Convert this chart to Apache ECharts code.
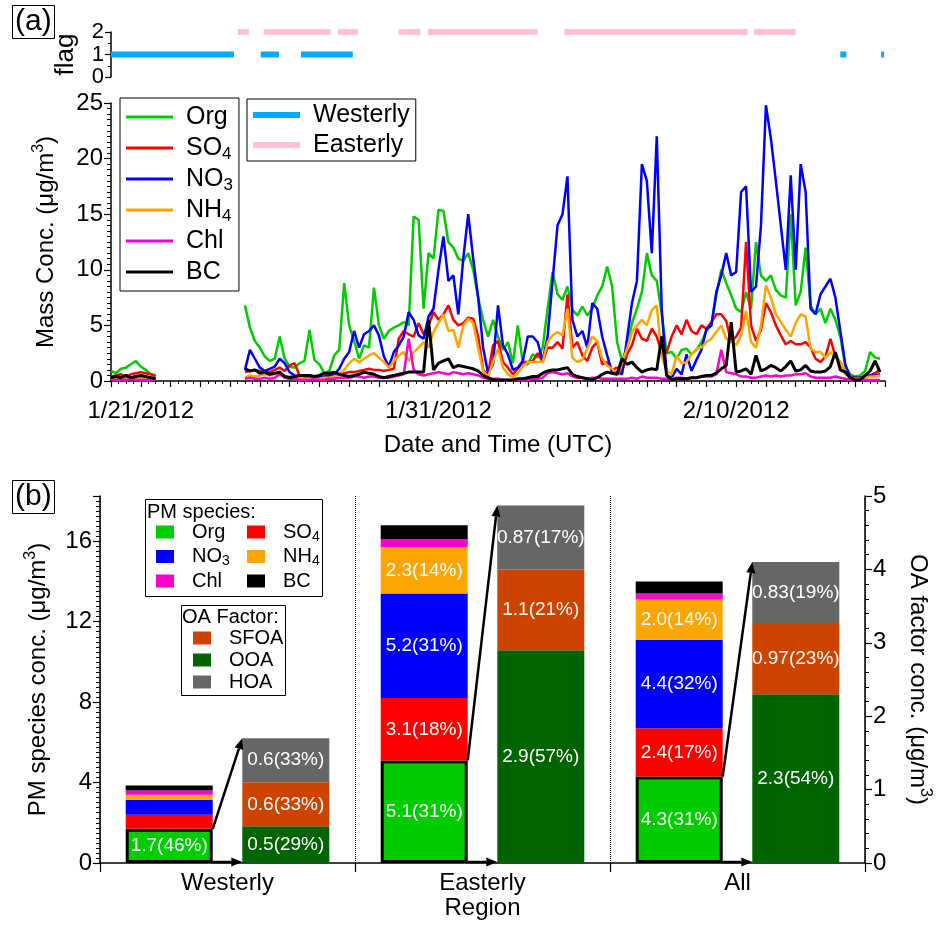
<!DOCTYPE html>
<html>
<head>
<meta charset="utf-8">
<title>PM species</title>
<script src="https://cdn.jsdelivr.net/npm/echarts@6/dist/echarts.min.js"></script>
<style>
html, body { margin: 0; padding: 0; background: #fff; }
#main { width: 941px; height: 926px; }
</style>
</head>
<body>
<div id="main"></div>
<script>
var myChart = echarts.init(document.getElementById('main'));
var FONT = "'Liberation Sans', Arial, sans-serif";

// time axis in days relative to 1/21/2012 00:00, 4-hour resolution
var dayStep = 1 / 6;
var seg1Start = -1;   // 1/20 00:00
var seg2Start = 3.5;  // 1/24 12:00

// wind flag periods [from, to] in days
var westerlyPeriods = [[-1, 3.13], [4.03, 4.64], [5.38, 7.12], [23.5, 23.7], [24.87, 24.97]];
var easterlyPeriods = [[3.26, 3.63], [4.13, 6.38], [6.62, 7.29], [8.66, 9.4], [9.64, 13.33], [14.23, 20.38], [20.6, 21.99]];

// mass concentrations (ug/m3)
var orgSeg1 = [0.9, 0.7, 1.1, 1.2, 1.5, 1.8, 1.3, 1.0, 0.6, 0.4];
var so4Seg1 = [0.4, 0.5, 0.6, 0.4, 0.6, 0.7, 0.8, 0.7, 0.6, 0.5];
var no3Seg1 = [0.3, 0.2, 0.3, 0.2, 0.3, 0.4, 0.3, 0.3, 0.2, 0.2];
var nh4Seg1 = [0.2, 0.2, 0.3, 0.2, 0.3, 0.3, 0.3, 0.3, 0.2, 0.2];
var chlSeg1 = [0.1, 0.1, 0.1, 0.1, 0.2, 0.1, 0.1, 0.1, 0.1, 0.1];
var bcSeg1 = [0.3, 0.4, 0.3, 0.5, 0.3, 0.4, 0.5, 0.4, 0.3, 0.2];

var orgSeg2 = [
    6.8, 4.8, 3.6, 3.0,
    2.2, 1.8, 2.0, 4.0, 2.0, 1.3,
    1.2, 1.6, 1.8, 4.6, 1.9, 1.5,
    0.7, 0.9, 2.3, 2.8, 8.8, 5.0,
    3.6, 2.0, 3.2, 3.0, 8.4, 5.0,
    3.8, 4.5, 4.8, 5.0, 5.3, 5.0,
    14.8, 14.5, 6.5, 11.5, 11.0, 15.4,
    15.3, 12.5, 12.0, 11.0, 10.8, 11.5,
    10.0, 7.5, 5.5, 4.0, 5.5, 4.0,
    2.8, 3.5, 1.6, 5.0, 1.6, 1.5,
    2.4, 2.1, 3.0, 6.5, 9.8, 7.8,
    7.3, 8.5, 6.4, 5.9, 6.7, 5.9,
    6.5, 7.7, 8.5, 10.3, 8.5, 3.5,
    1.8, 3.0, 5.2, 6.5, 8.0, 11.5,
    9.5, 9.0, 6.0, 2.5, 2.6, 2.0,
    2.8, 2.9, 2.4, 2.8, 3.5, 4.5,
    5.0, 7.7, 10.0, 8.8, 7.7, 6.5,
    6.2, 8.0, 6.5, 12.5, 9.5, 9.0,
    9.5, 8.2, 7.7, 7.5, 15.0, 6.8,
    8.0, 12.0, 6.8, 6.0, 6.5, 5.2,
    6.5, 5.5, 4.0, 1.3, 0.6, 0.4,
    0.5, 0.9, 2.6, 2.1, 2.0
];
var so4Seg2 = [
    0.8, 0.9, 1.0, 0.9,
    0.8, 0.8, 1.0, 1.2, 0.9, 1.4,
    1.6, 0.5, 0.4, 0.3, 0.3, 0.3,
    0.3, 0.4, 0.5, 0.6, 0.7, 0.8,
    0.8, 0.9, 1.0, 1.1, 1.0, 1.0,
    0.9, 1.0, 1.1, 3.8, 4.5, 4.2,
    4.0, 5.2, 4.2, 5.0, 6.2, 5.5,
    6.0, 6.8, 5.5, 5.0, 5.2, 5.7,
    5.6, 4.0, 1.0, 0.6, 3.2, 3.6,
    1.7, 1.2, 0.6, 1.1, 1.7, 1.7,
    1.8, 2.5, 1.7, 3.0, 3.0, 3.5,
    2.9, 7.8, 3.0, 3.5, 2.3, 1.8,
    3.0, 3.5, 1.5, 1.7, 1.0, 1.2,
    0.8, 2.4, 3.2, 4.7, 3.8, 3.6,
    4.7, 4.0, 2.5, 2.6, 4.0, 5.0,
    4.2, 5.5, 4.5, 4.2, 5.0, 4.7,
    5.3, 6.0, 6.0, 5.4, 3.5, 4.0,
    4.8, 12.5, 5.0, 3.6, 4.6, 7.0,
    6.2, 5.0, 4.1, 3.3, 3.6, 3.3,
    3.3, 3.5, 3.0, 2.0, 1.7, 2.2,
    3.8, 2.2, 1.7, 0.7, 0.4, 0.3,
    0.3, 0.4, 0.5, 0.7, 1.0
];
var no3Seg2 = [
    1.0, 2.8, 2.0, 1.2,
    0.9, 1.1, 1.3, 2.0, 1.6, 0.8,
    0.5, 0.4, 0.4, 0.4, 0.4, 0.4,
    0.4, 0.5, 0.6, 1.1, 2.0, 2.6,
    4.5, 3.0, 4.2, 4.5, 5.0, 4.1,
    2.2, 1.3, 2.6, 3.2, 4.0, 6.2,
    5.5, 4.1, 3.8, 5.8, 6.5, 10.0,
    13.0, 9.0, 9.5, 6.0, 11.0, 15.0,
    11.0, 7.5, 3.0, 0.7, 1.5, 6.8,
    3.2, 2.4, 1.0, 1.2, 1.8, 4.0,
    4.0, 3.5, 1.8, 4.0, 9.0, 14.0,
    15.0, 18.4, 5.5, 4.0, 4.5, 3.0,
    7.0, 6.5, 4.0, 2.3, 0.8, 0.8,
    0.6, 3.8, 7.0, 9.0, 19.5, 18.0,
    11.5, 22.0, 6.5, 0.5, 0.3, 1.1,
    0.6, 2.4, 0.9, 1.9, 2.8, 4.7,
    5.0, 8.0, 9.5, 11.5, 9.5, 9.8,
    17.0, 17.5, 8.0, 8.5, 14.0, 24.8,
    21.8, 18.0, 14.0, 10.0, 18.5, 10.0,
    19.5, 17.0, 6.5, 6.0, 7.8, 8.5,
    9.2, 7.5, 4.5, 1.5, 0.3, 0.3,
    0.3, 0.4, 0.5, 0.5, 0.6
];
var nh4Seg2 = [
    0.3, 0.5, 0.4, 0.5,
    0.6, 0.5, 0.6, 0.7, 0.5, 0.4,
    0.4, 0.3, 0.2, 0.2, 0.2, 0.2,
    0.3, 0.3, 0.4, 0.6, 1.0, 1.6,
    2.0, 1.7, 2.0, 2.3, 2.5, 2.1,
    1.7, 1.2, 1.8, 2.3, 2.6, 1.8,
    2.6, 3.0, 3.5, 3.0, 4.4, 5.2,
    6.0, 4.5, 4.6, 3.0, 5.0, 5.6,
    5.2, 3.0, 0.9, 0.4, 1.7, 2.9,
    1.2, 0.6, 0.3, 0.7, 1.3, 1.7,
    1.7, 1.7, 1.7, 3.5, 4.1, 4.4,
    4.1, 6.5, 2.1, 1.7, 1.9, 2.9,
    4.0, 3.6, 2.0, 1.4, 1.1, 0.5,
    1.6, 2.9, 4.4, 5.0, 5.5, 5.0,
    6.4, 6.8, 2.2, 0.9, 0.6, 2.3,
    1.6, 1.7, 2.4, 2.9, 3.0, 3.5,
    3.8, 4.4, 5.0, 3.8, 3.6, 3.2,
    4.1, 6.3, 3.5, 3.0, 5.0, 8.6,
    7.5, 6.0, 5.3, 4.6, 4.0, 5.2,
    6.0, 5.8, 2.9, 2.6, 2.6, 2.1,
    2.6, 2.2, 1.7, 0.6, 0.3, 0.2,
    0.2, 0.3, 0.4, 0.4, 0.5
];
var chlSeg2 = [
    0.2, 0.3, 0.2, 0.2,
    0.3, 0.2, 0.3, 0.6, 0.3, 0.2,
    0.2, 0.1, 0.1, 0.1, 0.2, 0.1,
    0.1, 0.2, 0.2, 0.3, 0.3, 0.3,
    0.4, 0.4, 0.3, 0.4, 0.4, 0.3,
    0.3, 0.3, 0.4, 0.5, 0.6, 3.8,
    1.0, 0.6, 0.5, 0.6, 0.7, 0.8,
    0.7, 0.6, 0.8, 0.7, 0.6, 0.7,
    0.6, 0.5, 0.3, 0.2, 0.2, 0.2,
    0.1, 0.1, 0.1, 0.1, 0.1, 0.1,
    0.2, 0.2, 0.3, 0.7, 0.8, 0.7,
    0.6, 0.7, 0.4, 0.3, 0.3, 0.2,
    0.3, 0.3, 0.2, 0.2, 0.2, 0.2,
    0.2, 0.2, 0.3, 0.2, 0.4, 0.3,
    0.3, 0.3, 0.2, 0.2, 0.2, 0.3,
    0.3, 0.2, 0.3, 0.3, 0.4, 0.4,
    0.4, 0.6, 2.8, 0.8, 0.7, 0.6,
    0.4, 0.4, 0.3, 0.3, 0.4, 0.5,
    0.4, 0.5, 0.4, 0.5, 0.5, 0.6,
    0.6, 0.7, 0.4, 0.3, 0.3, 0.3,
    0.3, 0.4, 0.3, 0.2, 0.1, 0.1,
    0.1, 0.1, 0.1, 0.1, 0.1
];
var bcSeg2 = [
    1.1, 0.9, 1.0, 0.7,
    0.8, 0.6, 0.7, 0.8, 0.4, 0.3,
    0.4, 0.5, 0.5, 0.5, 0.4, 0.5,
    0.7, 0.7, 0.8, 0.6, 0.5, 0.4,
    0.5, 0.6, 0.8, 0.7, 0.6, 0.4,
    0.3, 0.4, 0.5, 0.6, 0.7, 0.8,
    0.8, 0.8, 0.8, 5.5, 1.0, 1.6,
    1.8, 2.0, 1.2, 1.4, 1.3, 1.2,
    1.1, 0.9, 0.5, 0.3, 0.1, 0.1,
    0.1, 0.1, 0.1, 0.2, 0.2, 0.3,
    0.4, 0.4, 0.7, 0.9, 1.0, 1.0,
    1.1, 1.2, 0.6, 0.4, 0.3, 0.2,
    0.1, 0.3, 0.6, 0.8, 0.7, 0.6,
    2.0, 1.5, 1.7, 1.2, 0.8, 1.0,
    1.1, 1.0, 4.0, 0.5, 0.1, 0.2,
    0.2, 0.2, 0.3, 0.3, 0.4, 0.5,
    0.5, 0.7, 1.1, 1.4, 5.3, 0.8,
    0.9, 1.1, 0.6, 2.3, 0.9, 1.1,
    1.4, 1.2, 0.9, 1.3, 1.8, 0.9,
    1.0, 1.4, 0.9, 0.8, 0.8, 0.9,
    1.3, 2.6, 1.0, 0.8, 0.3, 0.1,
    0.1, 0.5, 0.9, 1.8, 0.8
];

// panel (b): average composition by region
var regions = ['Westerly', 'Easterly', 'All'];
var pmOrg = [1.7, 5.1, 4.3];
var pmSO4 = [0.7, 3.1, 2.4];
var pmNO3 = [0.75, 5.2, 4.4];
var pmNH4 = [0.25, 2.3, 2.0];
var pmChl = [0.2, 0.4, 0.3];
var pmBC = [0.25, 0.7, 0.6];
var orgPct = [46, 31, 31];
var so4Pct = [null, 18, 17];
var no3Pct = [null, 31, 32];
var nh4Pct = [null, 14, 14];
var oaOOA = [0.5, 2.9, 2.3];
var oaSFOA = [0.6, 1.1, 0.97];
var oaHOA = [0.6, 0.87, 0.83];
var ooaPct = [29, 57, 54];
var sfoaPct = [33, 21, 23];
var hoaPct = [33, 17, 19];

var pmAxisMax = 18.25;
var oaAxisMax = 5;
var barWidthPx = 87;
var barGapRatio = 0.34;

var colors = {
    Org: '#00cc00', SO4: '#ff0000', NO3: '#0000ff', NH4: '#ffa500', Chl: '#ff00cc', BC: '#000000',
    SFOA: '#cc4400', OOA: '#006400', HOA: '#666666',
    Westerly: '#00aaff', Easterly: '#ffc0d8'
};

function timeData(seg1, seg2) {
    var d = [];
    for (var i = 0; i < seg1.length; i++) {
        d.push([seg1Start + i * dayStep, seg1[i]]);
    }
    d.push([seg1Start + seg1.length * dayStep, '-']);
    for (var j = 0; j < seg2.length; j++) {
        d.push([seg2Start + j * dayStep, seg2[j]]);
    }
    return d;
}

function periodData(periods, level) {
    var d = [];
    periods.forEach(function (p) {
        d.push([p[0], level], [p[1], level], [p[1], '-']);
    });
    return d;
}

function subName(name) {
    return name.replace(/(\d)$/, '{sub|$1}');
}

function fmtValue(v) {
    var t = v * 10;
    return Math.abs(t - Math.round(t)) < 1e-9 ? v.toFixed(1) : v.toFixed(2);
}

function barLabel(values, pcts) {
    return function (p) {
        var pc = pcts[p.dataIndex];
        if (pc == null) return '';
        return fmtValue(values[p.dataIndex]) + '(' + pc + '%)';
    };
}

function lineSeries(name, seg1, seg2, width) {
    return {
        name: name,
        type: 'line',
        xAxisIndex: 1,
        yAxisIndex: 1,
        showSymbol: false,
        symbol: 'none',
        data: timeData(seg1, seg2),
        lineStyle: { color: colors[name], width: width || 2.5 },
        itemStyle: { color: colors[name] }
    };
}

function flagSeries(name, periods, level) {
    return {
        name: name,
        type: 'line',
        xAxisIndex: 0,
        yAxisIndex: 0,
        showSymbol: false,
        symbol: 'none',
        clip: false,
        data: periodData(periods, level),
        lineStyle: { color: colors[name], width: 6, cap: 'butt' },
        itemStyle: { color: colors[name] }
    };
}

function pmBar(name, values, pcts, extra) {
    var s = {
        name: name,
        type: 'bar',
        xAxisIndex: 2,
        yAxisIndex: 2,
        stack: 'pm',
        barWidth: barWidthPx,
        barGap: (barGapRatio * 100) + '%',
        data: values,
        itemStyle: { color: colors[name] },
        label: {
            show: !!pcts, position: 'inside', color: '#fff', fontSize: 19, fontFamily: FONT,
            formatter: pcts ? barLabel(values, pcts) : ''
        }
    };
    if (extra) s.itemStyle = Object.assign(s.itemStyle, extra);
    return s;
}

function oaBar(name, values, pcts) {
    return {
        name: name,
        type: 'bar',
        xAxisIndex: 2,
        yAxisIndex: 3,
        stack: 'oa',
        barWidth: barWidthPx,
        barGap: (barGapRatio * 100) + '%',
        data: values,
        itemStyle: { color: colors[name] },
        label: {
            show: true, position: 'inside', color: '#fff', fontSize: 19, fontFamily: FONT,
            formatter: barLabel(values, pcts)
        }
    };
}

function arrow(x1, y1, x2, y2) {
    var dx = x2 - x1, dy = y2 - y1;
    var len = Math.sqrt(dx * dx + dy * dy);
    var ux = dx / len, uy = dy / len;
    var hl = 11, hw = 4.5;
    var bx = x2 - ux * hl, by = y2 - uy * hl;
    return {
        type: 'group',
        children: [
            { type: 'line', shape: { x1: x1, y1: y1, x2: bx, y2: by }, style: { stroke: '#000', lineWidth: 2.5 } },
            { type: 'polygon', shape: { points: [[x2, y2], [bx - uy * hw, by + ux * hw], [bx + uy * hw, by - ux * hw]] }, style: { fill: '#000' } }
        ]
    };
}

function renderArrows(params, api) {
    var idx = api.value(0);
    var base = api.coord([idx, 0]);
    var orgTop = api.coord([idx, api.value(1)]);
    var oaTop = api.coord([idx, api.value(2)]);
    var half = barWidthPx * barGapRatio / 2;
    return {
        type: 'group',
        children: [
            arrow(base[0] - half, orgTop[1], base[0] + half, oaTop[1]),
            arrow(base[0] - half, base[1] - 1, base[0] + half, base[1] - 1)
        ]
    };
}

var arrowData = regions.map(function (r, i) {
    var oaTotal = oaOOA[i] + oaSFOA[i] + oaHOA[i];
    return [i, pmOrg[i], oaTotal * pmAxisMax / oaAxisMax];
});

var subRich = {
    sub: { fontSize: 17, lineHeight: 18, padding: [12, 0, 0, 0], verticalAlign: 'bottom', fontFamily: FONT }
};
var subRichSmall = {
    sub: { fontSize: 14, lineHeight: 14, padding: [10, 0, 0, 0], verticalAlign: 'bottom', fontFamily: FONT }
};
var supRich = {
    sup: { fontSize: 16, lineHeight: 18, padding: [0, 0, 12, 0], verticalAlign: 'top', fontFamily: FONT }
};

var axisBlack = { lineStyle: { color: '#000', width: 1.5 } };
var tickBlack = { lineStyle: { color: '#000', width: 1.2 } };

option = {
    backgroundColor: '#fff',
    animation: false,
    textStyle: { fontFamily: FONT, color: '#000' },
    title: [
        {
            text: '(a)', left: 12, top: 5, padding: [2, 3, 2, 3],
            borderColor: '#000', borderWidth: 1,
            textStyle: { fontSize: 30, fontWeight: 'normal', fontFamily: FONT, color: '#000' }
        },
        {
            text: '(b)', left: 12, top: 480, padding: [2, 3, 2, 3],
            borderColor: '#000', borderWidth: 1,
            textStyle: { fontSize: 30, fontWeight: 'normal', fontFamily: FONT, color: '#000' }
        }
    ],
    legend: [
        {
            data: ['Org', 'SO4', 'NO3', 'NH4', 'Chl', 'BC'],
            left: 120, top: 98, orient: 'vertical',
            icon: 'rect', itemWidth: 47, itemHeight: 3, itemGap: 1,
            padding: [4, 6, 4, 6],
            borderColor: '#000', borderWidth: 1,
            formatter: subName,
            itemStyle: { borderWidth: 0 },
            textStyle: { fontSize: 25, lineHeight: 30, fontFamily: FONT, color: '#000', padding: [0, 0, 0, 8], rich: subRich }
        },
        {
            data: ['Westerly', 'Easterly'],
            left: 247, top: 99, orient: 'vertical',
            icon: 'rect', itemWidth: 47, itemHeight: 6, itemGap: 0,
            padding: [1, 6, 1, 6],
            borderColor: '#000', borderWidth: 1,
            itemStyle: { borderWidth: 0 },
            textStyle: { fontSize: 25, lineHeight: 30, fontFamily: FONT, color: '#000', padding: [0, 0, 0, 8] }
        },
        {
            data: ['Org', 'NO3', 'Chl'],
            left: 156, top: 520, orient: 'vertical',
            icon: 'rect', itemWidth: 18, itemHeight: 13, itemGap: 0.5,
            padding: 0,
            formatter: subName,
            itemStyle: { borderWidth: 0 },
            textStyle: { fontSize: 20, lineHeight: 24, fontFamily: FONT, color: '#000', padding: [0, 0, 0, 13], rich: subRichSmall }
        },
        {
            data: ['SO4', 'NH4', 'BC'],
            left: 247, top: 520, orient: 'vertical',
            icon: 'rect', itemWidth: 18, itemHeight: 13, itemGap: 0.5,
            padding: 0,
            formatter: subName,
            itemStyle: { borderWidth: 0 },
            textStyle: { fontSize: 20, lineHeight: 24, fontFamily: FONT, color: '#000', padding: [0, 0, 0, 13], rich: subRichSmall }
        },
        {
            data: ['SFOA', 'OOA', 'HOA'],
            left: 193, top: 627, orient: 'vertical',
            icon: 'rect', itemWidth: 18, itemHeight: 13, itemGap: 0,
            padding: 0,
            itemStyle: { borderWidth: 0 },
            textStyle: { fontSize: 20, lineHeight: 22, fontFamily: FONT, color: '#000', padding: [0, 0, 0, 13] }
        }
    ],
    graphic: [
        { type: 'rect', left: 143, top: 497, shape: { width: 177, height: 97 }, style: { fill: 'none', stroke: '#000', lineWidth: 1 } },
        { type: 'text', left: 147, top: 502, style: { text: 'PM species:', font: '20px ' + FONT, fill: '#000' } },
        { type: 'rect', left: 179, top: 603, shape: { width: 104, height: 90 }, style: { fill: 'none', stroke: '#000', lineWidth: 1 } },
        { type: 'text', left: 182, top: 607, style: { text: 'OA Factor:', font: '20px ' + FONT, fill: '#000' } }
    ],
    grid: [
        { left: 111, right: 56, top: 32, height: 45, outerBoundsMode: 'none' },
        { left: 111, right: 56, top: 103, height: 278, outerBoundsMode: 'none' },
        { left: 100, right: 76, top: 496, height: 367, outerBoundsMode: 'none' }
    ],
    xAxis: [
        {
            gridIndex: 0, type: 'value', min: -1, max: 25,
            axisLine: { show: false }, axisTick: { show: false }, axisLabel: { show: false }, splitLine: { show: false }
        },
        {
            gridIndex: 1, type: 'value', min: -1, max: 25, interval: 1,
            axisLine: { onZero: false, lineStyle: axisBlack.lineStyle },
            axisTick: { show: true, length: 6, lineStyle: tickBlack.lineStyle },
            minorTick: { show: true, splitNumber: 4, length: 3, lineStyle: { color: '#000', width: 1 } },
            splitLine: { show: false },
            axisLabel: {
                fontSize: 24, color: '#000', margin: 18, fontFamily: FONT,
                formatter: function (v) {
                    if (v === 0) return '1/21/2012';
                    if (v === 10) return '1/31/2012';
                    if (v === 20) return '2/10/2012';
                    return '';
                }
            },
            name: 'Date and Time (UTC)', nameLocation: 'middle', nameGap: 52,
            nameTextStyle: { fontSize: 24, color: '#000', fontFamily: FONT }
        },
        {
            gridIndex: 2, type: 'category', data: regions,
            axisLine: { onZero: false, lineStyle: axisBlack.lineStyle },
            axisTick: { show: true, length: 9, lineStyle: tickBlack.lineStyle },
            splitLine: { show: true, lineStyle: { color: '#000', type: 'dotted', width: 1 } },
            axisLabel: { fontSize: 24, color: '#000', margin: 8, fontFamily: FONT },
            name: 'Region', nameLocation: 'middle', nameGap: 33,
            nameTextStyle: { fontSize: 24, color: '#000', fontFamily: FONT }
        }
    ],
    yAxis: [
        {
            gridIndex: 0, type: 'value', min: 0, max: 2, interval: 1,
            axisLine: { show: true, onZero: false, lineStyle: axisBlack.lineStyle },
            axisTick: { show: true, length: 6, lineStyle: tickBlack.lineStyle },
            minorTick: { show: true, splitNumber: 2, length: 3, lineStyle: { color: '#000' } },
            splitLine: { show: false },
            axisLabel: {
                fontSize: 22, lineHeight: 20, color: '#000', margin: 7, fontFamily: FONT,
                showMinLabel: true, showMaxLabel: true, hideOverlap: false
            },
            name: 'flag', nameLocation: 'middle', nameGap: 32, nameRotate: 90,
            nameTextStyle: { fontSize: 26, color: '#000', fontFamily: FONT }
        },
        {
            gridIndex: 1, type: 'value', min: 0, max: 25, interval: 5,
            axisLine: { show: true, onZero: false, lineStyle: axisBlack.lineStyle },
            axisTick: { show: true, length: 7, lineStyle: tickBlack.lineStyle },
            minorTick: { show: true, splitNumber: 10, length: 4, lineStyle: { color: '#000' } },
            splitLine: { show: false },
            axisLabel: { fontSize: 24, color: '#000', margin: 8, fontFamily: FONT },
            name: 'Mass Conc. (μg/m{sup|3})', nameLocation: 'middle', nameGap: 50, nameRotate: 90,
            nameTextStyle: { fontSize: 24, lineHeight: 30, color: '#000', fontFamily: FONT, rich: supRich }
        },
        {
            gridIndex: 2, type: 'value', min: 0, max: pmAxisMax, interval: 4,
            axisLine: { show: true, onZero: false, lineStyle: axisBlack.lineStyle },
            axisTick: { show: true, length: 7, lineStyle: tickBlack.lineStyle },
            minorTick: { show: true, splitNumber: 16, length: 4, lineStyle: { color: '#000' } },
            splitLine: { show: false },
            axisLabel: { fontSize: 24, color: '#000', margin: 8, fontFamily: FONT, showMaxLabel: false },
            name: 'PM species conc. (μg/m{sup|3})', nameLocation: 'middle', nameGap: 47, nameRotate: 90,
            nameTextStyle: { fontSize: 24, lineHeight: 30, color: '#000', fontFamily: FONT, rich: supRich }
        },
        {
            gridIndex: 2, type: 'value', position: 'right', min: 0, max: oaAxisMax, interval: 1,
            axisLine: { show: true, onZero: false, lineStyle: axisBlack.lineStyle },
            axisTick: { show: true, length: 7, lineStyle: tickBlack.lineStyle },
            minorTick: { show: true, splitNumber: 5, length: 4, lineStyle: { color: '#000' } },
            splitLine: { show: false },
            axisLabel: { fontSize: 24, color: '#000', margin: 8, fontFamily: FONT },
            name: 'OA factor conc. (μg/m{sup|3})', nameLocation: 'middle', nameGap: 38, nameRotate: -90,
            nameTextStyle: { fontSize: 24, lineHeight: 30, color: '#000', fontFamily: FONT, rich: supRich }
        }
    ],
    series: [
        flagSeries('Westerly', westerlyPeriods, 1),
        flagSeries('Easterly', easterlyPeriods, 2),
        lineSeries('Org', orgSeg1, orgSeg2),
        lineSeries('SO4', so4Seg1, so4Seg2),
        lineSeries('NO3', no3Seg1, no3Seg2),
        lineSeries('NH4', nh4Seg1, nh4Seg2),
        lineSeries('Chl', chlSeg1, chlSeg2),
        lineSeries('BC', bcSeg1, bcSeg2, 3),
        pmBar('Org', pmOrg, orgPct, { borderColor: '#000', borderWidth: 3 }),
        pmBar('SO4', pmSO4, so4Pct),
        pmBar('NO3', pmNO3, no3Pct),
        pmBar('NH4', pmNH4, nh4Pct),
        pmBar('Chl', pmChl, null),
        pmBar('BC', pmBC, null),
        oaBar('OOA', oaOOA, ooaPct),
        oaBar('SFOA', oaSFOA, sfoaPct),
        oaBar('HOA', oaHOA, hoaPct),
        {
            name: 'arrows',
            type: 'custom',
            xAxisIndex: 2,
            yAxisIndex: 2,
            renderItem: renderArrows,
            data: arrowData,
            encode: { x: 0, y: 1 },
            z: 10,
            silent: true
        }
    ]
};

myChart.setOption(option);

window.onresize = function () {
    if (myChart) {
        myChart.resize();
    }
};
</script>
</body>
</html>
